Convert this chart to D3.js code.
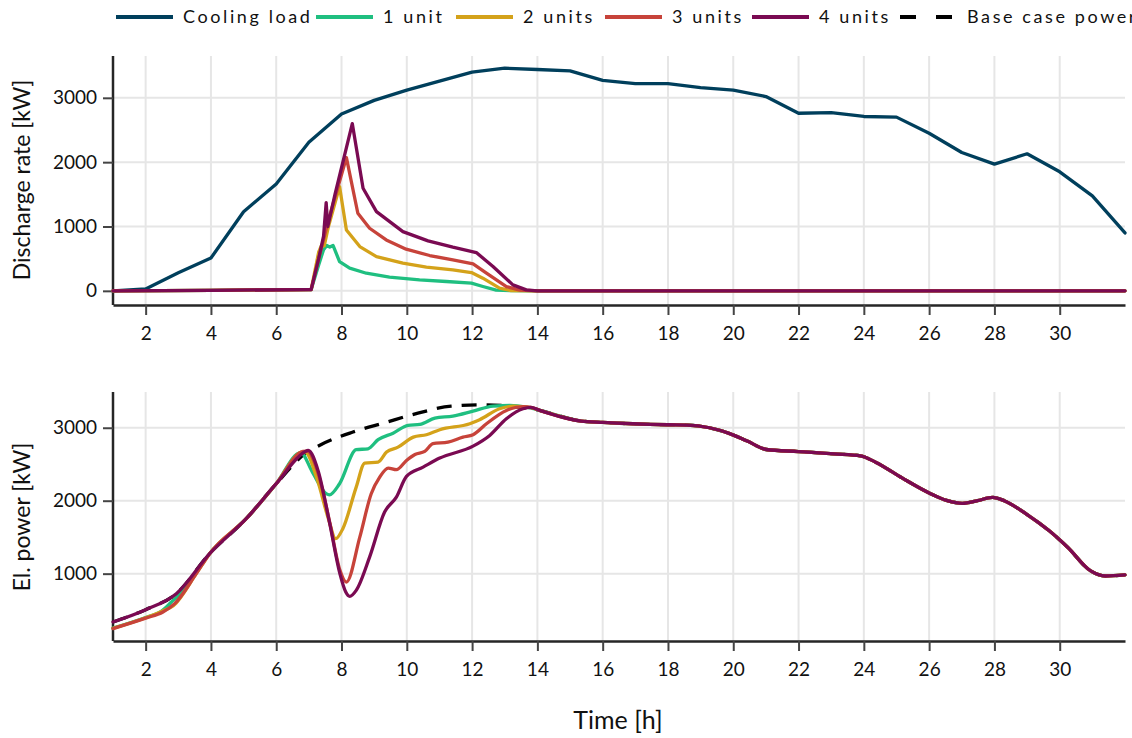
<!DOCTYPE html>
<html>
<head>
<meta charset="utf-8">
<script src="https://cdn.jsdelivr.net/npm/d3@7"></script>
<style>
  body { margin: 0; background: #fff; }
  svg { display: block; font-family: Lato, "Open Sans", sans-serif; }
</style>
</head>
<body>
<svg id="chart"></svg>
<script>
// ---- data (hours, kW) ----
var hours = [1, 2, 3, 4, 5, 6, 7, 8, 9, 10, 11, 12, 13, 14, 15, 16,
             17, 18, 19, 20, 21, 22, 23, 24, 25, 26, 27, 28, 29, 30, 31, 32];
var coolingLoad = [0, 30, 280, 510, 1230, 1660, 2310, 2750, 2960, 3120, 3260, 3400, 3460, 3440, 3420, 3270,
                   3220, 3220, 3160, 3120, 3020, 2760, 2770, 2710, 2700, 2450, 2150, 1970, 2130, 1850, 1475, 900];

// discharge rate, shared flat parts before / after the discharge
var dischargeHead = [[1, 0], [4, 8], [7, 20]];
var dischargeTail = [[14, 0], [32, 0]];
var discharge1 = [[7.07, 20], [7.3, 400], [7.45, 640], [7.55, 705], [7.64, 680], [7.74, 705], [7.94, 455], [8.25, 352],
                  [8.76, 274], [9.47, 213], [10.39, 171], [11.21, 145], [11.98, 119], [12.33, 67], [12.74, 10], [13.2, 2]];
var discharge2 = [[7.07, 20], [7.3, 600], [7.38, 700], [7.47, 700], [7.6, 1000], [7.94, 1620], [8.15, 947], [8.56, 688],
                  [9.07, 533], [9.88, 430], [10.6, 368], [11.41, 326], [11.98, 284], [12.33, 197], [12.84, 41], [13.2, 3]];
var discharge3 = [[7.07, 20], [7.3, 500], [7.6, 1100], [8.15, 2070], [8.5, 1206], [8.86, 973], [9.37, 792], [9.98, 647],
                  [10.7, 549], [11.41, 481], [12.03, 419], [12.44, 275], [13.05, 67], [13.46, 10]];
var discharge4 = [[7.07, 20], [7.3, 500], [7.45, 850], [7.53, 1370], [7.58, 1000], [7.8, 1500], [8.33, 2600], [8.66, 1594],
                  [9.07, 1232], [9.88, 921], [10.65, 776], [11.41, 678], [12.13, 595], [12.64, 378], [13.25, 93], [13.66, 15]];

// electric power, shared tail after 14 h
var powerTail = [[14.07, 3239], [15.34, 3092], [16, 3073], [18, 3041], [18.58, 3037], [19.27, 3000], [19.85, 2927],
                 [20.43, 2817], [21.01, 2702], [22, 2674], [23.09, 2642], [23.9, 2615], [24.36, 2528], [25.17, 2312],
                 [26, 2106], [26.56, 2000], [27.02, 1963], [27.48, 2000], [27.94, 2046], [28.3, 2000], [28.98, 1817],
                 [29.68, 1587], [30.25, 1358], [30.95, 1037], [31.4, 968], [32, 982]];
var powerBase = [[1, 338], [2, 507], [2.94, 726], [3.96, 1274], [5.08, 1753], [6.0, 2233], [6.87, 2640], [7.38, 2771],
                 [8.35, 2941], [9.32, 3068], [10.34, 3200], [11.36, 3296], [12.38, 3315], [13.24, 3292], [13.8, 3265]];
var power1 = [[1, 255], [2, 400], [2.5, 490], [2.79, 612], [3.0, 700], [3.55, 1030], [3.96, 1274], [5.08, 1753],
              [6.0, 2233], [6.75, 2660], [7.1, 2400], [7.53, 2096], [7.63, 2080], [7.94, 2233], [8.45, 2699], [8.81, 2712],
              [9.12, 2836], [9.58, 2926], [10.04, 3032], [10.4, 3045], [10.86, 3132], [11.41, 3160], [12.03, 3228],
              [12.64, 3296], [13.15, 3305], [13.66, 3283]];
var power2 = [[1, 250], [2, 395], [2.5, 485], [2.85, 560], [3.55, 1000], [3.96, 1274], [5.08, 1753], [6.0, 2233],
              [6.82, 2670], [6.9, 2665], [7.25, 2300], [7.6, 1750], [7.82, 1479], [8.04, 1616], [8.45, 2186], [8.71, 2515],
              [9.12, 2529], [9.38, 2666], [9.73, 2734], [10.2, 2871], [10.6, 2904], [11.01, 2973], [11.93, 3055],
              [12.23, 3110], [12.84, 3260], [13.25, 3296], [13.8, 3275]];
var power3 = [[1, 247], [2, 390], [2.53, 475], [2.89, 589], [3.55, 1000], [3.96, 1274], [5.08, 1753], [6.0, 2233],
              [6.82, 2675], [6.95, 2680], [7.3, 2350], [7.64, 1700], [7.95, 1050], [8.15, 885], [8.56, 1501], [8.91, 2096],
              [9.17, 2323], [9.43, 2447], [9.68, 2425], [9.99, 2552], [10.25, 2634], [10.55, 2675], [10.8, 2781],
              [11.26, 2803], [11.72, 2871], [12.03, 2904], [12.44, 3055], [13.05, 3237], [13.57, 3290], [13.8, 3280]];
var power4 = [[1, 338], [2, 507], [2.94, 726], [3.96, 1274], [5.08, 1753], [6.0, 2233], [6.87, 2667], [6.98, 2690],
              [7.28, 2415], [7.64, 1685], [7.95, 1000], [8.13, 748], [8.25, 689], [8.45, 771], [8.86, 1227], [9.32, 1844],
              [9.68, 2049], [9.99, 2333], [10.5, 2460], [11.01, 2584], [12.03, 2748], [12.54, 2895], [13.05, 3123],
              [13.56, 3260], [13.8, 3280]];

var xTicks = [2, 4, 6, 8, 10, 12, 14, 16, 18, 20, 22, 24, 26, 28, 30];
var topTicks = [0, 1000, 2000, 3000];
var bottomTicks = [1000, 2000, 3000];
var legendNames = ["Cooling load", "1 unit", "2 units", "3 units", "4 units", "Base case power"];

// ---- layout ----
var W = 1132, H = 738;
var colors = {cool: "#003f5c", u1: "#1fbf80", u2: "#d4a21a", u3: "#c7433a", u4: "#7a0a52", base: "#000"};

var svg = d3.select("#chart").attr("width", W).attr("height", H);

var x = d3.scaleLinear().domain([1, 32]).range([113, 1125]);
var yTop = d3.scaleLinear().domain([-220, 3650]).range([305, 56]);
var yBot = d3.scaleLinear().domain([77, 3490]).range([641, 392]);

function panel(y, ticks, title, titleY) {
    var g = svg.append("g");
    var top = y.range()[1], bottom = y.range()[0];
    // grid
    g.selectAll(".vg").data(xTicks).enter().append("line")
        .attr("x1", d => x(d)).attr("x2", d => x(d))
        .attr("y1", top).attr("y2", bottom)
        .attr("stroke", "#e6e6e6").attr("stroke-width", 2);
    g.selectAll(".hg").data(ticks).enter().append("line")
        .attr("x1", x.range()[0]).attr("x2", x.range()[1])
        .attr("y1", d => y(d)).attr("y2", d => y(d))
        .attr("stroke", "#e6e6e6").attr("stroke-width", 2);

    var ax = g.append("g").attr("transform", "translate(0," + bottom + ")")
        .call(d3.axisBottom(x).tickValues(xTicks).tickSize(10).tickSizeOuter(0).tickPadding(12));
    var ay = g.append("g").attr("transform", "translate(" + x.range()[0] + ",0)")
        .call(d3.axisLeft(y).tickValues(ticks).tickFormat(d3.format("d"))
            .tickSize(10).tickSizeOuter(0).tickPadding(6));
    [ax, ay].forEach(function(a) {
        a.select(".domain").attr("stroke", "#262626").attr("stroke-width", 2.5);
        a.selectAll(".tick line").attr("stroke", "#444").attr("stroke-width", 2);
        a.selectAll(".tick text").attr("fill", "#111").style("font-size", "19px")
            .style("font-family", "Lato, 'Open Sans', sans-serif");
    });
    // left domain should span full plot height
    ay.select(".domain").attr("d", "M0," + top + "V" + bottom);

    g.append("text")
        .attr("transform", "translate(22," + titleY + ") rotate(-90)")
        .attr("text-anchor", "middle").attr("dy", "0.35em")
        .attr("fill", "#111").style("font-size", "23px")
        .text(title);
    return g;
}

panel(yTop, topTicks, "Discharge rate [kW]", 180);
panel(yBot, bottomTicks, "El. power [kW]", 517);

// ---- lines ----
var lineTop = d3.line().x(d => x(d[0])).y(d => yTop(d[1]));
var lineBot = d3.line().x(d => x(d[0])).y(d => yBot(d[1])).curve(d3.curveMonotoneX);

function draw(gen, data, color, dash) {
    svg.append("path").datum(data)
        .attr("fill", "none").attr("stroke", color).attr("stroke-width", 3.3)
        .attr("stroke-linejoin", "round").attr("stroke-linecap", dash ? "butt" : "round")
        .attr("stroke-dasharray", dash || null)
        .attr("d", gen);
}

draw(lineTop, hours.map((h, i) => [h, coolingLoad[i]]), colors.cool);
draw(lineTop, dischargeHead.concat(discharge1, dischargeTail), colors.u1);
draw(lineTop, dischargeHead.concat(discharge2, dischargeTail), colors.u2);
draw(lineTop, dischargeHead.concat(discharge3, dischargeTail), colors.u3);
draw(lineTop, dischargeHead.concat(discharge4, dischargeTail), colors.u4);

draw(lineBot, powerBase.concat(powerTail), colors.base, "15,10");
draw(lineBot, power1.concat(powerTail), colors.u1);
draw(lineBot, power2.concat(powerTail), colors.u2);
draw(lineBot, power3.concat(powerTail), colors.u3);
draw(lineBot, power4.concat(powerTail), colors.u4);

// x title
svg.append("text").attr("x", 618).attr("y", 729).attr("text-anchor", "middle")
    .attr("fill", "#111").style("font-size", "25px").text("Time [h]");

// ---- legend ----
var legendX = [116, 316, 456, 605, 752, 900];
var legendColors = [colors.cool, colors.u1, colors.u2, colors.u3, colors.u4, colors.base];
var lg = svg.append("g").selectAll("g").data(legendNames).enter().append("g")
    .attr("transform", (d, i) => "translate(" + legendX[i] + ",17)");
lg.append("line").attr("x1", 0).attr("x2", 57).attr("y1", 0).attr("y2", 0)
    .attr("stroke", (d, i) => legendColors[i]).attr("stroke-width", 4)
    .attr("stroke-dasharray", (d, i) => i === 5 ? "16,20" : null);
lg.append("text").attr("x", 67).attr("dy", "0.36em")
    .attr("fill", "#111").style("font-size", "18px").style("letter-spacing", "2.6px")
    .text(d => d);
</script>
</body>
</html>
